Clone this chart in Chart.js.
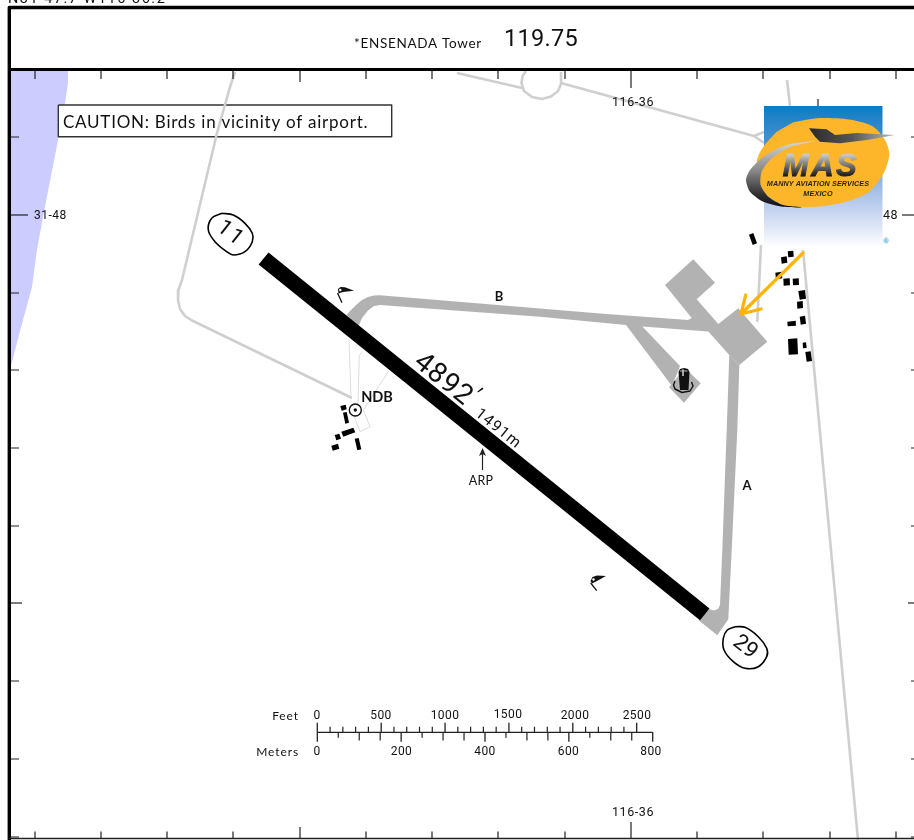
<!DOCTYPE html>
<html><head><meta charset="utf-8">
<style>html,body{margin:0;padding:0;background:#fff}canvas{display:block;filter:blur(.3px)}</style>
<script src="https://cdn.jsdelivr.net/npm/chart.js@4"></script></head>
<body><canvas id="c" width="914" height="840"></canvas>
<script>
// ---- values (chart units) ----
const topTicksX=[35,101,167,233,366,432,498,565,697,763,830,896];
const tallTopTicksX=[300];
const tallestTopTicksX=[631];
const sideTicksY=[137,293,370,448,526,681,759,837];
const longSideTicksY=[603];
const latitudeTicksY=[215];
const feetTicks=[100,200,300,400,600,700,800,900,1100,1200,1300,1400,1600,1700,1800,1900,2100,2200,2300,2400];
const feetMajor=[0,500,1000,1500,2000,2500];
const meterSmall=[50,250,450,650];
const meterMedium=[100,150,300,350,500,550,700,750];
const meterMajor=[0,200,400,600,800];
const water=[[11,71],[68,71],[68,83],[64,110],[58,140],[43,217],[37,250],[32,287],[20,331],[11,366]];
const roadWest=[[235,72],[230,87],[217,133],[182,280],[178.5,290],[178,300],[180,309],[185,316],[192,320.5],[352,398]];
const roadNorth=[[457,73],[522,88]];
const roadRing=[[526,71],[522.5,76],[521.5,83],[524,91],[532,97],[542,99],[551,96.5],[558,91],[561,84],[561,72]];
const roadNorthEast=[[561,83],[754,136],[764,143]];
const roadFork=[[754,136],[764,132]];
const roadNE=[[787,80],[790,106]];
const roadMid=[[761,245],[757.3,322]];
const roadEast=[[803,250],[858,840]];
const ndbFence=[[349,340],[351,397]];
const ndbRect=[[362.7,351.7],[359.3,355],[358,403],[354.3,416.7],[360,431.7],[370,426.7],[363.3,410],[388.3,371.7]];
const taxiwayB=[[346.7,315],[350,311],[356,305],[362,300],[368,297],[374,295.5],[380,295.2],[540,308.5],[600,313.5],[688,320],[691.7,318],[665,285],[693.3,259.3],[715,282.7],[696.7,299.3],[718.3,324],[738.3,308.3],[767.3,341.7],[739.3,365],[729.3,355],[708.3,331.5],[642.3,326.5],[680,366],[672,386],[626,325],[540,316.7],[380,305],[374,306],[368,310.5],[362,318],[358.3,326.7]];
const taxiwayA=[[729.3,355],[739.3,365],[737.3,430],[731.7,550],[728.3,619.3],[717.3,635.3],[698.3,620],[709.3,609.3],[714,610.5],[718,609],[720,605],[722.3,550],[726.7,430]];
const towerPad=[[685,368],[700.7,383.3],[684,402.7],[669,387.3]];
const runway=[[268.5,252.5],[709.5,608.5],[700,620.2],[258.6,264.5]];
const towerBody=[[678.5,372],[680,369],[684,368],[688,369],[689.5,372],[688.5,390],[680,390]];
const towerBase=[[675,381],[673.5,385],[675,389],[682,392.5],[690,391],[693,386],[691.5,382]];
const towerMarks=[[[683,369.5],[683,376]],[[680,371],[687.5,371]]];
const buildings=[
 [[340.3,406],[345.7,404.7],[346.7,409.3],[341.7,410.7]],
 [[343,412.7],[346.7,412],[349,422.7],[345.3,423.7]],
 [[341.3,431.7],[353.3,427.7],[355.3,432.3],[343.3,436.7]],
 [[334.7,435],[339.3,433.7],[341,438.7],[336.3,440.3]],
 [[331.3,445.7],[338,443.7],[339.3,448.7],[332.7,450.7]],
 [[354.7,438.7],[358.7,438],[361.3,449.3],[357.3,450.3]],
 [[749,234.7],[753.3,233],[757,243.3],[752.7,245]],
 [[781,257.3],[786.7,256.3],[787.3,262.7],[781.7,263.7]],
 [[787.7,251.3],[793.3,250.7],[793.7,256.7],[788.3,257.3]],
 [[775.3,272.7],[781.7,271.7],[782.3,278.3],[776,279.3]],
 [[783.3,278.7],[789.7,278.3],[790,285.3],[783.7,285.7]],
 [[792.7,278.7],[798.7,278.3],[799,285],[793,285.3]],
 [[798.3,291],[805,290],[806,298.7],[799.7,299.7]],
 [[797,301.7],[802.7,301],[803,308],[797.3,308.7]],
 [[799.7,316.7],[805,315.7],[806,323.7],[800.7,324.7]],
 [[787.3,321.7],[795.7,320.7],[796,325.7],[787.7,326.3]],
 [[788,339],[797.3,338.3],[798,354.3],[788.7,354.7]],
 [[802.7,342.7],[806,342.3],[806.7,348],[803,348.3]],
 [[805.3,352],[810.7,351.3],[812,361],[806.7,361.7]]];
const birdWings=[[[338,289],[340.5,287],[345,287.3],[354,290.7],[343,292],[338.5,293.5]],
                 [[590.5,581],[592.5,577],[597,575.5],[606,576],[597,581],[592,583.5]]];
const birdLegs=[[[337.5,293],[342,302.7]],[[590.7,583],[596.7,590.7]]];
const birdEyes=[[340.3,290],[593.5,579.5]];
const ndbPoint=[[355.3,410]];
const badge11=[[221.7,213.3],[233.3,215],[245,223.3],[252.3,233.3],[252.3,241.7],[245,251.7],[233.3,255],[226.7,251.7],[215,241.7],[208.3,230],[211.7,218.3],[221.7,213.3]];
const badge29=[[735,626.7],[745,627.3],[758.3,636.7],[766.7,648.3],[766.7,656.7],[758.3,666.7],[745,668.3],[733.3,661.7],[724,650],[723.3,638.3],[727.3,630],[735,626.7]];
const cautionBox=[[58.3,105],[391.7,105],[391.7,136.7],[58.3,136.7],[58.3,105]];
const arpArrow=[[482.5,470],[482.5,450]];
const arpHead=[[479,456],[482.6,448],[486,456],[482.6,454]];
const orangeArrow=[[803,253],[741,314]];
const orangeHead=[[745.7,295],[741,314],[761,309]];
const logoPanel=[[764,106],[882.5,106],[882.5,248],[764,248]];
const logoDisc=[[793.3,122.3],[816.7,118.3],[840,118.6],[856.7,121],[873.3,126.7],[885,140],[889.3,153.3],[887,165],[881.7,176.7],[866.7,193.3],[840,203.3],[806.7,207.3],[783.3,205],[765,193.3],[758,176.7],[757,160],[763.3,146.7],[776.7,131.7]];
const logoSwoosh=[[816.7,140.7],[786.7,145],[763.3,156.7],[750,170],[746,180],[750,191.7],[763.3,201.7],[783.3,206.7],[803.3,207.3],[783.3,205],[768.3,196.7],[760.7,185],[761.7,171.7],[771.7,158.3],[790,146.7]];
const logoPlane=[[809,128.3],[826.7,129.3],[835,135],[856.7,133],[895,135],[866.7,140],[840,143.3],[820,141.7],[815,136.7]];
const regMark=[[886,241]];
const labelTexts=["N31 47.7 W116 36.2","*ENSENADA Tower","119.75","CAUTION: Birds in vicinity of airport.","116-36","116-36","31-48","48","B","A","NDB","ARP","4892","′","1491m","11","29","Feet","Meters","0","500","1000","1500","2000","2500","0","200","400","600","800"];
const logoTexts=["MANNY AVIATION SERVICES","MEXICO","®"];
const brandText="MAS";

// ---- style ----
const FONT='Lato, "Noto Sans", sans-serif', NUMFONT='Roboto, "Noto Sans", sans-serif';
// [x, y, size, weight, rotation deg, align, letter spacing]
const labelLayout=[
 [8,-0.5,14.5,400,0,'left',1.5],[354,44,13.5,400,0,'left',0.7],[504,40,23.5,400,0,'left',.3],
 [63,122.5,17,400,0,'left',.75],[633,102.5,12.5,400,0,'center',.6],[633,813,12.5,400,0,'center',.6],
 [34,216,12,400,0,'left',.5],[883,216,12.5,400,0,'left',.5],
 [499,297,13,700,0,'center',0],[747,486,13,700,0,'center',0],[377,397,14.5,700,0,'center',0],[481,481,12.5,400,0,'center',.3],
 [443,380,28,400,39,'center',1],[476,395,20,400,39,'center',0],[498,429,15.5,400,39,'center',1.2],
 [230.5,234,22,400,38,'center',2],[745,647.5,22,400,38,'center',0],
 [299,716,12,400,0,'right',.9],[299,752,12,400,0,'right',.9],
 [317,716,12,400,0,'center',.4],[381,716,12,400,0,'center',.4],[445,716,12,400,0,'center',.4],[508,715,12,400,0,'center',.4],[575,716,12,400,0,'center',.4],[637,716,12,400,0,'center',.4],
 [317,752,12,400,0,'center',.4],[401.5,752,12,400,0,'center',.4],[485,752,12,400,0,'center',.4],[568.5,752,12,400,0,'center',.4],[651,752,12,400,0,'center',.4]];
const logoLayout=[[818,184,7.2,'italic 700','#2a2418',.1],[818,194.3,7.2,'italic 700','#2a2418',.2],[886,241.5,7,'400','#6cb4e4',0]];

const GREY='#cfcfcf',TAXI='#b2b2b2',BLACK='#000';
const pts=a=>a.map(([x,y])=>({x,y}));
const base={showLine:true,pointRadius:0,pointHoverRadius:0,borderWidth:0,fill:false,tension:0};
const poly=(a,color,extra)=>({...base,data:pts(a),fill:'shape',backgroundColor:color,borderColor:color,...extra});
const line=(a,color,w,extra)=>({...base,data:pts(a),borderColor:color,borderWidth:w,borderJoinStyle:'round',...extra});
const segs=(list,color,w)=>{const d=[];list.forEach((s,i)=>{if(i)d.push({x:null,y:null});d.push(...pts(s));});return {...base,data:d,borderColor:color,borderWidth:w};};
const dots=(a,r,bg,border,bw)=>({data:pts(a),showLine:false,pointRadius:r,pointHoverRadius:r,pointBackgroundColor:bg,pointBorderColor:border,pointBorderWidth:bw});
const linGrad=(x0,y0,x1,y1,stops)=>c=>{const s=c.chart.scales;
  const p=s.x&&s.y?[s.x.getPixelForValue(x0),s.y.getPixelForValue(y0),s.x.getPixelForValue(x1),s.y.getPixelForValue(y1)]:[NaN];
  if(!p.every(Number.isFinite))return stops[0][1];
  const g=c.chart.ctx.createLinearGradient(p[0],p[1],p[2],p[3]);
  stops.forEach(([o,col])=>g.addColorStop(o,col));return g;};

const FEET_X=v=>317.3+v*0.12776, M_X=v=>317.3+v*0.41925;
const V=(xs,y0,y1)=>xs.map(x=>[[x,y0],[x,y1]]);
const H=(ys,x0,x1)=>ys.map(y=>[[x0,y],[x1,y]]);

const paint=[
 poly(water,'#ccccff'),
 poly(cautionBox,'#fff'),
 line(cautionBox,'#333',1.4),
 line(roadWest,GREY,2.6),line(roadNorth,GREY,2.6),line(roadRing,GREY,2.6),line(roadNorthEast,GREY,2.6),line(roadFork,GREY,2.6),line(roadNE,GREY,2.6),line(roadMid,GREY,2.6),line(roadEast,GREY,2.6),
 line(ndbFence,'#dcdcdc',1),line(ndbRect,'#dcdcdc',1),
 poly(towerPad,TAXI),poly(taxiwayB,TAXI),poly(taxiwayA,TAXI),
 poly(runway,BLACK),
 poly(towerBody,'#111'),line(towerBase,'#111',1.4),segs(towerMarks,'#bbb',1),
 ...buildings.map(b=>poly(b,BLACK)),
 ...birdWings.map(b=>poly(b,'#111')),segs(birdLegs,'#111',1.3),dots(birdEyes,1.2,'#fff','#fff',0),
 dots(ndbPoint,6,'#fff','#111',1.4),dots(ndbPoint,1.7,'#111','#111',0),
 poly(badge11,'#fff',{tension:.35}),line(badge11,'#000',1.6,{tension:.35}),
 poly(badge29,'#fff',{tension:.35}),line(badge29,'#000',1.6,{tension:.35}),
 line(arpArrow,'#222',1.2),poly(arpHead,'#222'),
 poly(logoPanel,linGrad(0,106,0,248,[[0,'#0a7dc2'],[.25,'#4c90d0'],[.5,'#8fb2e0'],[.75,'#c8d6f0'],[1,'#ffffff']])),
 poly(logoDisc,'#fdb52a',{tension:.3}),
 poly(logoSwoosh,linGrad(0,140,0,207,[[0,'#d8d8d8'],[.45,'#8a8a8a'],[.8,'#333'],[1,'#111']]),{tension:.25}),
 poly(logoPlane,linGrad(809,0,895,0,[[0,'#2a2a2a'],[.5,'#555'],[1,'#bbb']])),
 line(orangeArrow,'#ffb400',3.2,{borderCapStyle:'round'}),line(orangeHead,'#ffb400',3.2,{borderCapStyle:'round'}),
 dots(regMark,2.6,'#bfdcf2','#bfdcf2',0),
 // frame & graticule
 segs(V(topTicksX,71,79),'#222',1.2),segs(V(tallTopTicksX,71,82),'#222',1.2),segs(V(tallestTopTicksX,71,88),'#222',1.2),
 segs(V([818],99,106),'#222',1.2),
 segs(V(topTicksX,838,831.5),'#222',1.2),segs(V(tallTopTicksX,838,827),'#222',1.2),segs(V(tallestTopTicksX,838,822),'#222',1.2),
 segs(H(sideTicksY,11,19),'#222',1.2),segs(H(longSideTicksY,11,22),'#222',1.2),segs(H(latitudeTicksY,11,28),'#222',1.2),
 segs(H(sideTicksY,911,914),'#222',1.2),segs(H(longSideTicksY,908,914),'#222',1.2),segs(H(latitudeTicksY,902,914),'#222',1.2),
 line([[9.3,840],[9.3,7.5],[914,7.5]],'#000',3.4),line([[9.3,69.5],[914,69.5]],'#000',3),line([[9,838.5],[914,838.5]],'#222',1.4),
 // bar scale
 segs([[[317.3,732.3],[652.7,732.3]]],'#222',1.3),
 segs(V(feetTicks.map(FEET_X),732,726.7),'#222',1.2),segs(V(feetMajor.map(FEET_X),732,722.7),'#222',1.3),
 segs(V(meterSmall.map(M_X),732,737.7),'#222',1.2),segs(V(meterMedium.map(M_X),732,740.5),'#222',1.2),segs(V(meterMajor.map(M_X),732,741.7),'#222',1.3)
];

const textPlugin={id:'texts',afterDatasetsDraw(chart){
  const ctx=chart.ctx,sx=chart.scales.x,sy=chart.scales.y;
  ctx.save();ctx.textBaseline='middle';ctx.fillStyle='#111';
  labelTexts.forEach((t,i)=>{const [x,y,size,w,rot,al,sp]=labelLayout[i];
    ctx.save();ctx.translate(sx.getPixelForValue(x),sy.getPixelForValue(y));ctx.rotate(rot*Math.PI/180);
    ctx.font=`${w} ${size}px ${/\d/.test(t)?NUMFONT:FONT}`;ctx.textAlign=al;ctx.letterSpacing=sp+'px';
    ctx.fillText(t,0,0);ctx.restore();});
  logoTexts.forEach((t,i)=>{const [x,y,size,w,col,sp]=logoLayout[i];
    ctx.save();ctx.font=`${w} ${size}px "Liberation Sans", sans-serif`;ctx.fillStyle=col;ctx.textAlign='center';ctx.letterSpacing=sp+'px';
    ctx.fillText(t,sx.getPixelForValue(x),sy.getPixelForValue(y));ctx.restore();});
  ctx.save();
  const px=sx.getPixelForValue(821),py=sy.getPixelForValue(166);
  const g=ctx.createLinearGradient(0,py-11,0,py+11);g.addColorStop(0,'#c8c8c8');g.addColorStop(.45,'#777');g.addColorStop(1,'#111');
  ctx.font='italic 700 31px "Liberation Sans", sans-serif';ctx.textAlign='center';ctx.letterSpacing='2.5px';
  ctx.fillStyle=g;ctx.strokeStyle=g;ctx.lineWidth=1;
  ctx.strokeText(brandText,px,py+1);ctx.fillText(brandText,px,py+1);ctx.restore();
  ctx.restore();
}};

new Chart(document.getElementById('c'),{
  type:'scatter',
  data:{datasets:paint.slice().reverse()},
  options:{responsive:false,animation:false,devicePixelRatio:1,
    layout:{padding:0,autoPadding:false},
    plugins:{legend:{display:false},tooltip:{enabled:false}},
    events:[],
    scales:{x:{type:'linear',min:0,max:914,display:false},y:{type:'linear',min:0,max:840,reverse:true,display:false}}},
  plugins:[textPlugin]
});
</script></body></html>
